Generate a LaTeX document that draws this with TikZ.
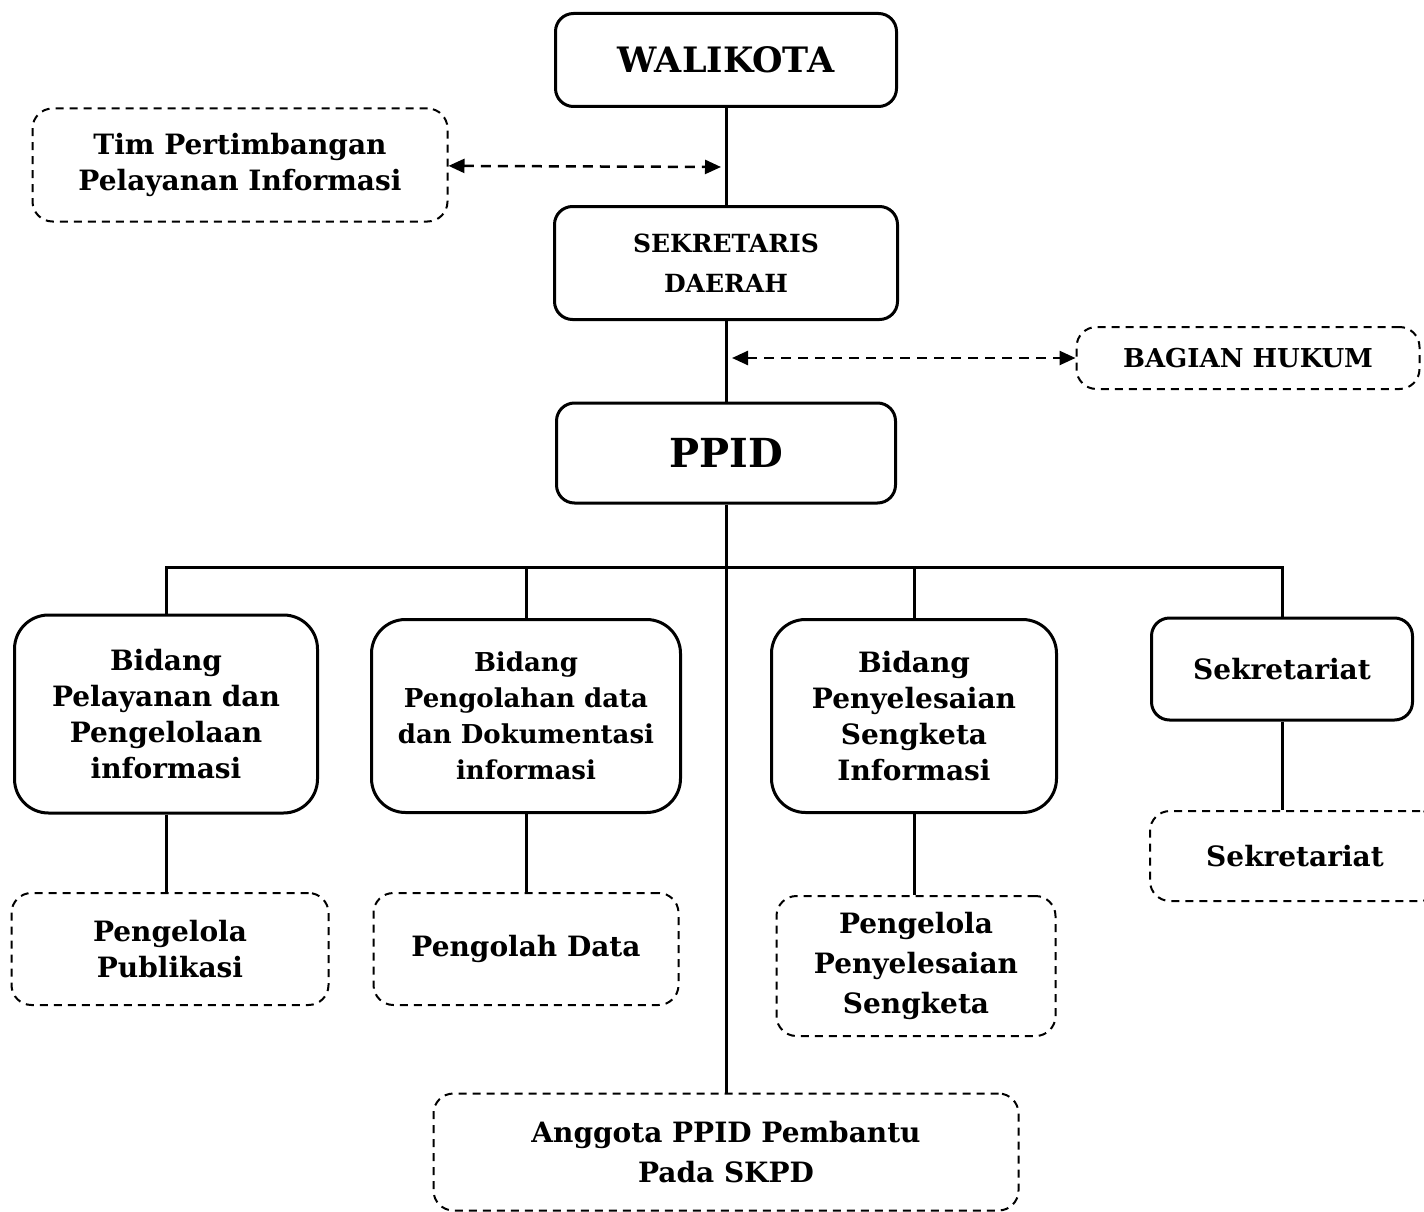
\documentclass[tikz,border=0pt]{standalone}
\usepackage{fontspec}
\setmainfont{DejaVu Serif}
\usetikzlibrary{arrows.meta}

\begin{document}
\begin{tikzpicture}[x=1pt, y=-1pt, every node/.style={font=\bfseries\fontsize{28}{36}\selectfont, align=center, inner sep=0pt}, >={Triangle[length=16pt, width=14pt]}, box/.style={draw, line width=3pt, rounded corners=18pt}, dbox/.style={draw, line width=2pt, dash pattern=on 8pt off 6pt, rounded corners=20pt}, link/.style={line width=3pt}, dlink/.style={line width=2.5pt, dash pattern=on 10pt off 7pt}]
	\useasboundingbox (0,0) rectangle (1424,1212);
	\node[box, minimum width=341pt, minimum height=93pt, font=\bfseries\fontsize{35}{40}\selectfont] (wali) at (726,60) {WALIKOTA};
	\node[dbox, minimum width=415pt, minimum height=113pt] (tim) at (240,165) {Tim Pertimbangan\\Pelayanan Informasi};
	\node[box, minimum width=343pt, minimum height=113pt, font=\bfseries\fontsize{25}{40}\selectfont] (sekda) at (726,263) {SEKRETARIS\\DAERAH};
	\node[dbox, minimum width=343pt, minimum height=62pt, font=\bfseries\fontsize{26}{30}\selectfont] (hukum) at (1248,358) {BAGIAN HUKUM};
	\node[box, minimum width=339pt, minimum height=100pt, font=\bfseries\fontsize{40}{46}\selectfont] (ppid) at (726,453) {PPID};
	\coordinate (a1) at (721,167);
	\coordinate (a2) at (732,358);
	\coordinate (hub) at (726,567);
	\node[box, rounded corners=34pt, minimum width=303pt, minimum height=198pt] (pel) at (166,714) {Bidang\\Pelayanan dan\\Pengelolaan\\informasi};
	\node[box, rounded corners=34pt, minimum width=309pt, minimum height=193pt, font=\bfseries\fontsize{26}{36}\selectfont] (olah) at (526,716) {Bidang\\Pengolahan data\\dan Dokumentasi\\informasi};
	\node[box, rounded corners=34pt, minimum width=285pt, minimum height=193pt] (sengketa) at (914,716) {Bidang\\Penyelesaian\\Sengketa\\Informasi};
	\node[box, minimum width=261pt, minimum height=102pt] (sekre) at (1282,669) {Sekretariat};
	\node[dbox, minimum width=317pt, minimum height=112pt] (publik) at (170,949) {Pengelola\\Publikasi};
	\node[dbox, minimum width=305pt, minimum height=112pt] (data) at (526,949) {Pengolah Data};
	\node[dbox, minimum width=279pt, minimum height=140pt, font=\bfseries\fontsize{28}{40}\selectfont] (selesai) at (916,966) {Pengelola\\Penyelesaian\\Sengketa};
	\node[dbox, minimum width=290pt, minimum height=90pt] (sekre2) at (1295,856) {Sekretariat};
	\node[dbox, minimum width=585pt, minimum height=117pt, font=\bfseries\fontsize{28}{40}\selectfont] (anggota) at (726,1152) {Anggota PPID Pembantu\\Pada SKPD};
	\draw[link] (wali) -- (sekda);
	\draw[link] (sekda) -- (ppid);
	\draw[link] (ppid) -- (anggota);
	\draw[link] (pel.north) |- (hub) -| (sekre.north);
	\draw[link] (olah.north) -- (olah.north |- hub);
	\draw[link] (sengketa.north) -- (sengketa.north |- hub);
	\draw[link] (pel) -- (pel.south |- publik.north);
	\draw[link] (olah) -- (data);
	\draw[link] (sengketa) -- (sengketa.south |- selesai.north);
	\draw[link] (sekre) -- (sekre.south |- sekre2.north);
	\draw[dlink, <->] (tim) -- (a1);
	\draw[dlink, <->] (a2) -- (hukum);
\end{tikzpicture}
\end{document}
